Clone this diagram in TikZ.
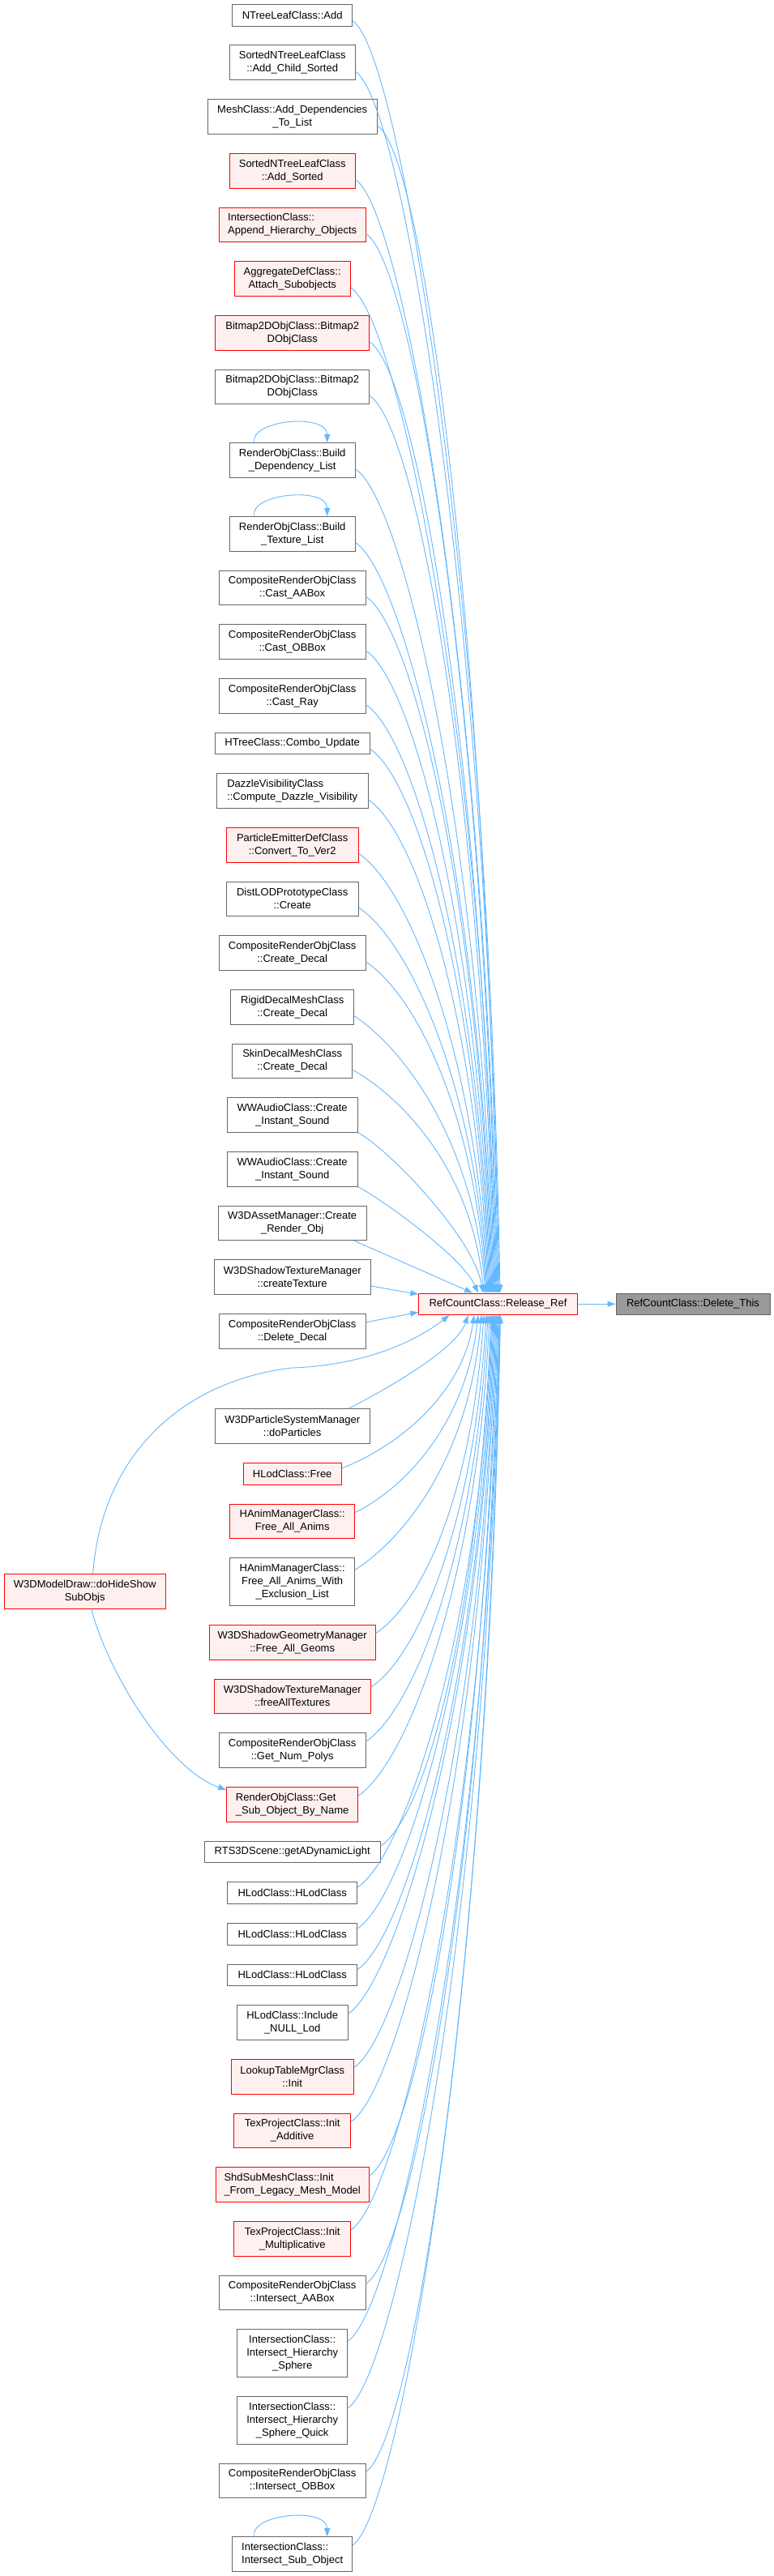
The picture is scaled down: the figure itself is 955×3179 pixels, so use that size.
\documentclass[tikz,border=0pt]{standalone}
\usepackage{fontspec}
\setmainfont{Liberation Sans}
\usetikzlibrary{arrows.meta,calc}
\definecolor{edgeblue}{HTML}{63B8FF}
\definecolor{nodegray}{HTML}{666666}
\definecolor{redfill}{HTML}{FFF0F0}
\definecolor{rootfill}{HTML}{999999}
\newcommand\nodefont{\fontsize{13pt}{16pt}\selectfont}
\begin{document}
\begin{tikzpicture}[x=1pt,y=-1pt,
 nbox/.style={rectangle, draw, line width=0.9pt, font=\nodefont, align=center, inner xsep=2pt, inner ysep=0pt},
 wbox/.style={nbox, draw=nodegray, fill=white},
 rbox/.style={nbox, draw=red, fill=redfill},
 gbox/.style={nbox, draw=nodegray, fill=rootfill},
 h1/.style={minimum height=26.7pt},
 h2/.style={minimum height=42.7pt},
 h3/.style={minimum height=58.6pt},
 cedge/.style={draw=edgeblue, line width=0.9pt, -{Triangle[length=10pt,width=7pt]}}
]
\fill[white] (0,0) rectangle (955,3179);
\useasboundingbox (0,0) rectangle (955,3179);

% root and main callee
\node[rbox,h1,minimum width=195.6] (rr) at (614.5,1609.3) {RefCountClass::Release\_Ref};
\node[gbox,h1,minimum width=190] (dt) at (855,1609.3) {RefCountClass::Delete\_This};
\node[rbox,h2,minimum width=199.3] (nDraw) at (104.7,1963.7) {W3DModelDraw::doHideShow\\SubObjs};

% callers
\node[wbox,h1,minimum width=148] (nAdd) at (360.7,18.7) {NTreeLeafClass::Add};
\node[wbox,h2,minimum width=155] (nAddChild) at (360.7,77.3) {SortedNTreeLeafClass\\::Add\_Child\_Sorted};
\node[wbox,h2,minimum width=209] (nMesh) at (360.7,144) {MeshClass::Add\_Dependencies\\\_To\_List};
\node[rbox,h2,minimum width=155] (nAddSorted) at (360.7,210.7) {SortedNTreeLeafClass\\::Add\_Sorted};
\node[rbox,h2,minimum width=180.6,align=left] (nAppend) at (360.7,277.3) {IntersectionClass::\\Append\_Hierarchy\_Objects};
\node[rbox,h2,minimum width=143.3] (nAttach) at (360.7,344) {AggregateDefClass::\\Attach\_Subobjects};
\node[rbox,h2,minimum width=189.7] (nBmpA) at (360.7,410.8) {Bitmap2DObjClass::Bitmap2\\DObjClass};
\node[wbox,h2,minimum width=189.7] (nBmpB) at (360.7,477.3) {Bitmap2DObjClass::Bitmap2\\DObjClass};
\node[wbox,h2,minimum width=155] (nBuildDep) at (360.7,568) {RenderObjClass::Build\\\_Dependency\_List};
\node[wbox,h2,minimum width=155] (nBuildTex) at (360.7,658.7) {RenderObjClass::Build\\\_Texture\_List};
\node[wbox,h2,minimum width=180.6] (nCastAA) at (360.7,725.3) {CompositeRenderObjClass\\::Cast\_AABox};
\node[wbox,h2,minimum width=180.6] (nCastOB) at (360.7,792) {CompositeRenderObjClass\\::Cast\_OBBox};
\node[wbox,h2,minimum width=180.6] (nCastRay) at (360.7,858.7) {CompositeRenderObjClass\\::Cast\_Ray};
\node[wbox,h1,minimum width=190.7] (nCombo) at (360.7,917.3) {HTreeClass::Combo\_Update};
\node[wbox,h2,minimum width=186.7,align=left] (nDazzle) at (360.7,976) {DazzleVisibilityClass\\::Compute\_Dazzle\_Visibility};
\node[rbox,h2,minimum width=163.4] (nConvert) at (360.7,1042.7) {ParticleEmitterDefClass\\::Convert\_To\_Ver2};
\node[wbox,h2,minimum width=163.4] (nDistLOD) at (360.7,1109.3) {DistLODPrototypeClass\\::Create};
\node[wbox,h2,minimum width=180.6] (nCreateDecal) at (360.7,1176) {CompositeRenderObjClass\\::Create\_Decal};
\node[wbox,h2,minimum width=151.7] (nRigid) at (360.7,1242.7) {RigidDecalMeshClass\\::Create\_Decal};
\node[wbox,h2,minimum width=147.6] (nSkin) at (360.7,1309.3) {SkinDecalMeshClass\\::Create\_Decal};
\node[wbox,h2,minimum width=161] (nAudioA) at (360.7,1376) {WWAudioClass::Create\\\_Instant\_Sound};
\node[wbox,h2,minimum width=161] (nAudioB) at (360.7,1442.7) {WWAudioClass::Create\\\_Instant\_Sound};
\node[wbox,h2,minimum width=183.4] (nAsset) at (360.7,1509.3) {W3DAssetManager::Create\\\_Render\_Obj};
\node[wbox,h2,minimum width=192.7] (nCreateTex) at (360.7,1576) {W3DShadowTextureManager\\::createTexture};
\node[wbox,h2,minimum width=180.6] (nDelDecal) at (360.7,1642.7) {CompositeRenderObjClass\\::Delete\_Decal};
\node[wbox,h2,minimum width=190.7] (nParticles) at (360.7,1760) {W3DParticleSystemManager\\::doParticles};
\node[rbox,h1,minimum width=121.3] (nFree) at (360.7,1818.7) {HLodClass::Free};
\node[rbox,h2,minimum width=154.4] (nFreeAnims) at (360.7,1877.3) {HAnimManagerClass::\\Free\_All\_Anims};
\node[wbox,h3,minimum width=154.4] (nFreeAnimsEx) at (360.7,1952) {HAnimManagerClass::\\Free\_All\_Anims\_With\\\_Exclusion\_List};
\node[rbox,h2,minimum width=204.6] (nFreeGeoms) at (360.7,2026.7) {W3DShadowGeometryManager\\::Free\_All\_Geoms};
\node[rbox,h2,minimum width=192.7] (nFreeTex) at (360.7,2093.3) {W3DShadowTextureManager\\::freeAllTextures};
\node[wbox,h2,minimum width=180.6] (nNumPolys) at (360.7,2160) {CompositeRenderObjClass\\::Get\_Num\_Polys};
\node[rbox,h2,minimum width=162.4,align=left] (nGetSub) at (360.7,2226.7) {RenderObjClass::Get\\\_Sub\_Object\_By\_Name};
\node[wbox,h1,minimum width=216.6] (nLight) at (360.7,2285.3) {RTS3DScene::getADynamicLight};
\node[wbox,h1,minimum width=160] (nHLodA) at (360.7,2336) {HLodClass::HLodClass};
\node[wbox,h1,minimum width=160] (nHLodB) at (360.7,2386.7) {HLodClass::HLodClass};
\node[wbox,h1,minimum width=160] (nHLodC) at (360.7,2437.3) {HLodClass::HLodClass};
\node[wbox,h2,minimum width=137] (nNull) at (360.7,2496) {HLodClass::Include\\\_NULL\_Lod};
\node[rbox,h2,minimum width=150.7] (nLookup) at (360.7,2562.7) {LookupTableMgrClass\\::Init};
\node[rbox,h2,minimum width=144] (nAdditive) at (360.7,2629.3) {TexProjectClass::Init\\\_Additive};
\node[rbox,h2,minimum width=189,align=left] (nShd) at (360.7,2696) {ShdSubMeshClass::Init\\\_From\_Legacy\_Mesh\_Model};
\node[rbox,h2,minimum width=144] (nMult) at (360.7,2762.7) {TexProjectClass::Init\\\_Multiplicative};
\node[wbox,h2,minimum width=180.6] (nIntAA) at (360.7,2829.3) {CompositeRenderObjClass\\::Intersect\_AABox};
\node[wbox,h3,minimum width=136] (nHierS) at (360.7,2904) {IntersectionClass::\\Intersect\_Hierarchy\\\_Sphere};
\node[wbox,h3,minimum width=136] (nHierSQ) at (360.7,2986.7) {IntersectionClass::\\Intersect\_Hierarchy\\\_Sphere\_Quick};
\node[wbox,h2,minimum width=180.6] (nIntOB) at (360.7,3061.3) {CompositeRenderObjClass\\::Intersect\_OBBox};
\node[wbox,h2,minimum width=147.6,align=left] (nSubObj) at (360.7,3152) {IntersectionClass::\\Intersect\_Sub\_Object};

% Release_Ref -> Delete_This
\draw[cedge] (rr) -- (dt);

% upper callers -> Release_Ref (top)
\foreach \n/\yc/\ex in {nAdd/18.7/617, nAddChild/77.3/616, nMesh/144/615, nAddSorted/210.7/614,
  nAppend/277.3/613, nAttach/344/612, nBmpA/410.8/611, nBmpB/477.3/610, nBuildDep/568/609,
  nBuildTex/658.7/608, nCastAA/725.3/607, nCastOB/792/606, nCastRay/858.7/605, nCombo/917.3/604,
  nDazzle/976/603, nConvert/1042.7/602, nDistLOD/1109.3/601, nCreateDecal/1176/600,
  nRigid/1242.7/599, nSkin/1309.3/597}{
  \pgfmathsetmacro\dy{1587-\yc}
  \pgfmathsetmacro\bb{min(0.12*\dy,40)}
  \pgfmathsetmacro\cc{0.55*\dy}
  \pgfmathsetmacro\xs{\ex-614.5}
  \coordinate (s) at ($(\n.east)!.5!(\n.south east)$);
  \coordinate (e) at ([xshift=\xs]rr.north);
  \draw[cedge] (s) .. controls ($(s)+(60,\bb)$) and ($(e)+(-15,-\cc)$) .. (e);
}
\coordinate (aAs) at (nAudioA.south east);
\coordinate (aAe) at ([xshift=-18.5]rr.north);
\draw[cedge] (aAs) .. controls ($(aAs)+(35,18)$) and ($(aAe)+(-12,-70)$) .. (aAe);
\coordinate (aBs) at (nAudioB.south east);
\coordinate (aBe) at ([xshift=-24.5]rr.north);
\draw[cedge] (aBs) .. controls ($(aBs)+(30,16)$) and ($(aBe)+(-20,-45)$) .. (aBe);
\draw[cedge] ([xshift=-16]nAsset.south east) -- ([xshift=-31.5]rr.north);
\draw[cedge] ($(nCreateTex.east)!.5!(nCreateTex.south east)$) -- ([yshift=12]rr.west);

% lower callers -> Release_Ref (bottom)
\draw[cedge] ($(nDelDecal.east)!.5!(nDelDecal.north east)$) -- ([yshift=-10]rr.west);
\coordinate (pS) at ([xshift=69.3]nParticles.north);
\coordinate (pE) at ([xshift=-37]rr.south);
\draw[cedge] (pS) .. controls ($(pS)+(30,-15)$) and ($(pE)+(-15,45)$) .. (pE);
\foreach \n/\yc/\ex in {nFree/1818.7/585, nFreeAnims/1877.3/590, nFreeAnimsEx/1952/594,
  nFreeGeoms/2026.7/597, nFreeTex/2093.3/600, nNumPolys/2160/602, nGetSub/2226.7/604,
  nLight/2285.3/606, nHLodA/2336/607, nHLodB/2386.7/608, nHLodC/2437.3/609, nNull/2496/610,
  nLookup/2562.7/611, nAdditive/2629.3/612, nShd/2696/613, nMult/2762.7/614, nIntAA/2829.3/615,
  nHierS/2904/616, nHierSQ/2986.7/616.5, nIntOB/3061.3/617, nSubObj/3152/617.5}{
  \pgfmathsetmacro\dy{\yc-1632}
  \pgfmathsetmacro\bb{min(0.12*\dy,40)}
  \pgfmathsetmacro\cc{0.55*\dy}
  \pgfmathsetmacro\xs{\ex-614.5}
  \coordinate (s) at ($(\n.east)!.5!(\n.north east)$);
  \coordinate (e) at ([xshift=\xs]rr.south);
  \draw[cedge] (s) .. controls ($(s)+(60,-\bb)$) and ($(e)+(-15,\cc)$) .. (e);
}

% W3DModelDraw edges
\coordinate (dS) at ([xshift=10]nDraw.north);
\coordinate (dVia) at (360,1688);
\draw[cedge] (dS) .. controls (125,1800) and (220,1705) .. (dVia)
  .. controls (430,1686) and (500,1665) .. ([xshift=-60]rr.south);
\draw[cedge] ([xshift=8]nDraw.south) .. controls (135,2070) and (210,2185) .. ([yshift=18]nGetSub.west);

% self loops
\foreach \n in {nBuildDep, nBuildTex, nSubObj}{
  \coordinate (lA) at ([xshift=-47]\n.north);
  \coordinate (lB) at ([xshift=43]\n.north);
  \draw[cedge] (lA) .. controls ($(lA)+(-6,-28)$) and ($(lB)+(0,-37)$) .. (lB);
}
\end{tikzpicture}
\end{document}
